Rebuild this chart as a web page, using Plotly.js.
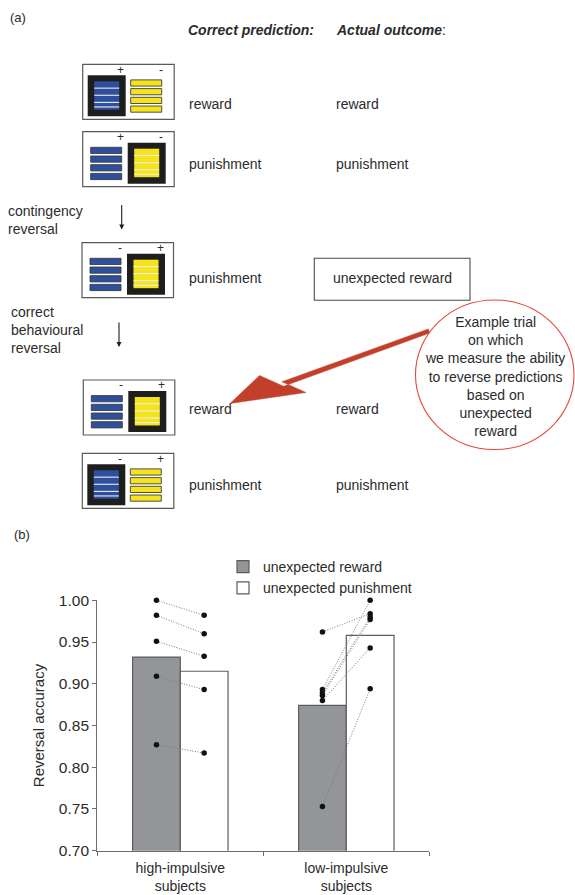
<!DOCTYPE html>
<html>
<head>
<meta charset="utf-8">
<script src="https://cdn.plot.ly/plotly-3.0.1.min.js"></script>
<style>html,body{margin:0;padding:0;background:#fff;}#chart{width:575px;height:895px;}</style>
</head>
<body>
<div id="chart"></div>
<script>
// ---------- data (panel b) ----------
const categories = ['high-impulsive<br>subjects', 'low-impulsive<br>subjects'];
const seriesNames = ['unexpected reward', 'unexpected punishment'];
const rewardMeans = [0.932, 0.874];
const punishMeans = [0.915, 0.958];
const highRewardSubj = [1.000, 0.982, 0.951, 0.909, 0.827];
const highPunishSubj = [0.982, 0.960, 0.933, 0.893, 0.817];
const lowRewardSubj  = [0.962, 0.893, 0.889, 0.886, 0.880, 0.753];
const lowPunishSubj  = [0.984, 1.000, 0.980, 0.977, 0.943, 0.894];
const yTicks = [0.70, 0.75, 0.80, 0.85, 0.90, 0.95, 1.00];

// ---------- diagram text (panel a) ----------
const predictionLabels = ['reward', 'punishment', 'punishment', 'reward', 'punishment'];
const outcomeLabels = ['reward', 'punishment', 'unexpected reward', 'reward', 'punishment'];
const circleText = ['Example trial', 'on which', 'we measure the ability', 'to reverse predictions', 'based on', 'unexpected', 'reward'];

// ---------- helpers ----------
const W = 575, H = 895;
const X = v => v / W;
const Y = v => 1 - v / H;
const FONT = 'Liberation Sans, Arial, Helvetica, sans-serif';
const TXT = '#2b2b2b';
const BLUE = '#2d4f9d', YEL = '#f5e41c', BLK = '#1e1e1c';

const shapes = [];
const annotations = [];

function rect(x0, y0, x1, y1, fill, lineColor, lw) {
  shapes.push({type: 'rect', xref: 'paper', yref: 'paper', x0: X(x0), x1: X(x1), y0: Y(y1), y1: Y(y0),
    fillcolor: fill, line: {color: lineColor || fill, width: lw === undefined ? 0 : lw}, layer: 'above'});
}
function hline(x0, x1, y, color, w) {
  shapes.push({type: 'line', xref: 'paper', yref: 'paper', x0: X(x0), x1: X(x1), y0: Y(y), y1: Y(y),
    line: {color: color, width: w}, layer: 'above'});
}
function text(x, y, t, opts) {
  opts = opts || {};
  annotations.push(Object.assign({xref: 'paper', yref: 'paper', x: X(x), y: Y(y), text: t, showarrow: false,
    xanchor: 'left', yanchor: 'middle', font: {family: FONT, size: 14, color: TXT}}, opts));
}

function stimulus(bx, by, selected, signs) {
  rect(bx, by, bx + 91.5, by + 55, '#ffffff', '#5a5a5a', 1.2);
  [['L', BLUE, 0], ['R', YEL, 40]].forEach(([side, col, dx]) => {
    if (selected === side) {
      rect(bx + 5 + dx, by + 11, bx + 43 + dx, by + 52, BLK);
      const ix0 = bx + 11.5 + dx, ix1 = bx + 36.5 + dx, iy0 = by + 17, iy1 = by + 45.5;
      rect(ix0, iy0, ix1, iy1, col);
      [0.24, 0.49, 0.74, 0.9].forEach(f => hline(ix0, ix1, iy0 + f * (iy1 - iy0), '#eeeeee', 1.1));
    } else {
      for (let i = 0; i < 4; i++) {
        const ty = by + 15.6 + i * 8.7;
        rect(bx + 8 + dx, ty, bx + 39 + dx, ty + 6.2, col, '#3c3c3c', 0.9);
      }
    }
  });
  text(bx + 38, by + 5.5, signs[0], {xanchor: 'center', font: {family: FONT, size: 12, color: TXT}});
  text(bx + 78, by + 5.5, signs[1], {xanchor: 'center', font: {family: FONT, size: 12, color: TXT}});
}

// ---------- panel (a) ----------
text(8, 17, '(a)', {font: {family: FONT, size: 13, color: TXT}});
text(186, 29.5, '<b><i>Correct prediction:</i></b>', {font: {family: FONT, size: 14, color: TXT}});
text(333.5, 29.5, '<b><i>Actual outcome</i></b>:', {font: {family: FONT, size: 14, color: TXT}});

const boxes = [[82.7, 64.3, 'L', ['+', '-']], [82.7, 131.7, 'R', ['+', '-']], [82, 242.7, 'R', ['-', '+']],
               [83.3, 380, 'R', ['-', '+']], [82.3, 453.3, 'L', ['-', '+']]];
const rowY = [104.3, 164.3, 278.5, 409, 484.7];
boxes.forEach((b, i) => {
  stimulus(b[0], b[1], b[2], b[3]);
  text(186.5, rowY[i], predictionLabels[i]);
  if (i === 2) {
    rect(314.3, 258.3, 470, 300.3, 'rgba(0,0,0,0)', '#4a4a4a', 1.1);
    text(392, rowY[i], outcomeLabels[i], {xanchor: 'center'});
  } else {
    text(334, rowY[i], outcomeLabels[i]);
  }
});

text(6, 219.5, 'contingency<br>reversal', {align: 'left'});
text(9, 330, 'correct<br>behavioural<br>reversal', {align: 'left'});
annotations.push({xref: 'paper', yref: 'paper', x: X(121.7), y: Y(229.5), ax: 0, ay: -26, showarrow: true,
  arrowhead: 2, arrowsize: 0.9, arrowwidth: 1.1, arrowcolor: BLK, text: ''});
annotations.push({xref: 'paper', yref: 'paper', x: X(119), y: Y(347), ax: 0, ay: -26, showarrow: true,
  arrowhead: 2, arrowsize: 0.9, arrowwidth: 1.1, arrowcolor: BLK, text: ''});

// red circle with text
shapes.push({type: 'circle', xref: 'paper', yref: 'paper', x0: X(415.5), x1: X(574), y0: Y(449.5), y1: Y(300),
  line: {color: '#e5473a', width: 1.1}, fillcolor: 'rgba(0,0,0,0)', layer: 'above'});
text(495, 376.5, circleText.join('<br>'), {xanchor: 'center', align: 'center'});

// red arrow (filled polygon)
(function () {
  const tip = [230, 403.5], c1 = [259.5, 375.5], c2 = [306, 392.5];
  const base = [(c1[0] + c2[0]) / 2, (c1[1] + c2[1]) / 2];
  const end = [429, 331];
  const dx = end[0] - base[0], dy = end[1] - base[1], L = Math.hypot(dx, dy);
  const nx = -dy / L * 2.4, ny = dx / L * 2.4;
  const P = p => X(p[0]).toFixed(5) + ',' + Y(p[1]).toFixed(5);
  const path = 'M' + P(tip) + ' L' + P(c1) + ' L' + P([base[0] + nx, base[1] + ny]) + ' L' + P([end[0] + nx * 0.9, end[1] + ny * 0.9]) +
    ' L' + P([end[0] - nx * 0.9, end[1] - ny * 0.9]) + ' L' + P([base[0] - nx, base[1] - ny]) + ' L' + P(c2) + ' Z';
  shapes.push({type: 'path', xref: 'paper', yref: 'paper', path: path, fillcolor: '#c2402b',
    line: {color: '#c2402b', width: 0.5}, layer: 'above'});
})();

// ---------- panel (b) ----------
text(12, 534, '(b)', {font: {family: FONT, size: 13, color: TXT}});

const BARGAP = 0.425;
const off = (1 - BARGAP) / 4;
const traces = [
  {type: 'bar', name: seriesNames[0], x: categories, y: rewardMeans,
   marker: {color: '#949599', line: {color: '#5b5c5e', width: 1.2}}},
  {type: 'bar', name: seriesNames[1], x: categories, y: punishMeans,
   marker: {color: '#ffffff', line: {color: '#5b5c5e', width: 1.2}}}
];
function subjLines(ci, rw, pn) {
  rw.forEach((v, i) => {
    traces.push({type: 'scatter', mode: 'lines+markers', xaxis: 'x2', yaxis: 'y', showlegend: false,
      x: [ci - off, ci + off], y: [v, pn[i]], cliponaxis: false, hoverinfo: 'skip',
      line: {color: '#7a7a7a', width: 1, dash: '1px,1.6px'},
      marker: {color: '#111', size: 5.5}});
  });
}
subjLines(0, highRewardSubj, highPunishSubj);
subjLines(1, lowRewardSubj, lowPunishSubj);

const layout = {
  width: W, height: H,
  margin: {l: 0, r: 0, t: 0, b: 0},
  paper_bgcolor: '#fff', plot_bgcolor: '#fff',
  font: {family: FONT, color: TXT},
  barmode: 'group', bargap: BARGAP, bargroupgap: 0,
  xaxis: {domain: [X(97.3), X(429.3)], range: [-0.5, 1.5], type: 'category', automargin: false,
    showline: true, linecolor: '#6d6d6d', linewidth: 1.2, ticks: 'outside', tickson: 'boundaries',
    ticklen: 4, tickcolor: '#6d6d6d', tickfont: {size: 14, color: TXT}, showgrid: false, zeroline: false,
    ticklabelstandoff: 4, fixedrange: true},
  xaxis2: {overlaying: 'x', range: [-0.5, 1.5], visible: false, fixedrange: true},
  yaxis: {domain: [Y(850.7), Y(600.3)], range: [0.7, 1.0], automargin: false,
    tickvals: yTicks, tickformat: '.2f', ticks: 'outside', ticklen: 4, tickcolor: '#6d6d6d',
    showline: true, linecolor: '#6d6d6d', linewidth: 1.2, showgrid: false, zeroline: false,
    tickfont: {size: 15.5, color: TXT},
    title: {text: 'Reversal accuracy', font: {size: 15, color: TXT}, standoff: 10}, fixedrange: true},
  legend: {x: X(223), y: Y(551), xanchor: 'left', yanchor: 'top', font: {size: 14, color: TXT},
    bgcolor: 'rgba(0,0,0,0)', tracegroupgap: 0, itemclick: false},
  shapes: shapes,
  annotations: annotations,
  hovermode: false
};

Plotly.newPlot('chart', traces, layout, {displayModeBar: false, staticPlot: true});
</script>
</body>
</html>
